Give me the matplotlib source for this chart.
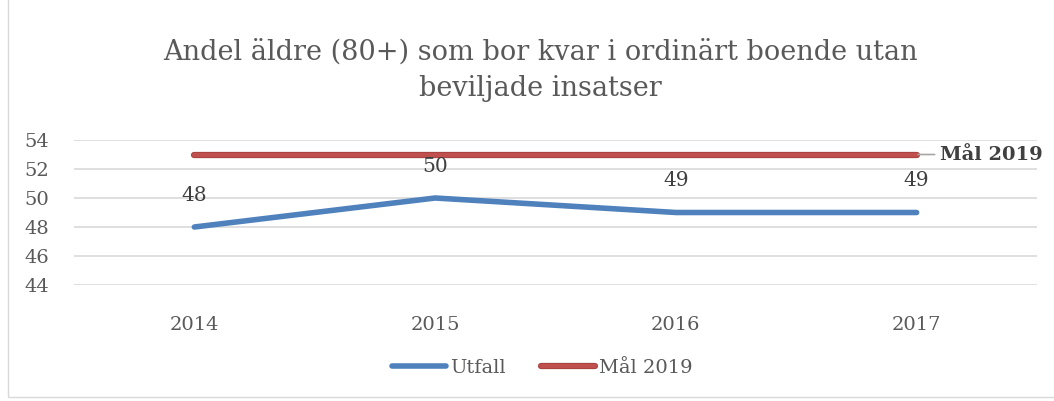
import matplotlib.pyplot as plt
import matplotlib.patheffects as pe
from matplotlib.patches import Rectangle

years = ["2014", "2015", "2016", "2017"]
utfall = [48, 50, 49, 49]
mal_2019 = [53, 53, 53, 53]
yticks = [44, 46, 48, 50, 52, 54]

plt.rcParams['font.family'] = ['DejaVu Serif']
text_col = "#595959"

fig = plt.figure(figsize=(10.54, 4.01), dpi=100)
ax = fig.add_axes([74 / 1054, 1 - 285 / 401, (1037 - 74) / 1054, 145 / 401])

x = range(len(years))
ax.plot(x, utfall, color="#4f81bd", linewidth=4, solid_capstyle="round", label="Utfall")
ax.plot(x, mal_2019, color="#c0504d", linewidth=3, solid_capstyle="round", label="Mål 2019",
        path_effects=[pe.Stroke(linewidth=4.5, foreground="#a94440"), pe.Normal()])

for i, v in enumerate(utfall):
    ax.annotate(str(v), (i, v), xytext=(0, 23), textcoords="offset points",
                ha="center", va="center", fontsize=14.5, color="#404040")

# series label at the end of the target line
ax.annotate("Mål 2019", (3, 53), xytext=(17, 0), textcoords="offset points",
            ha="left", va="center", fontsize=14, fontweight="bold", color="#404040",
            arrowprops=dict(arrowstyle="-", color="#a6a6a6", lw=1.2, shrinkA=2, shrinkB=1))

ax.set_xlim(-0.5, 3.5)
ax.set_ylim(44, 54)
ax.set_yticks(yticks)
ax.set_xticks(list(x))
ax.set_xticklabels(years)
ax.tick_params(axis="both", length=0, labelsize=14, labelcolor=text_col)
ax.tick_params(axis="x", pad=22)
ax.tick_params(axis="y", pad=18)
ax.grid(axis="y", color="#d9d9d9", linewidth=1.2)
ax.set_axisbelow(True)
for s in ax.spines.values():
    s.set_visible(False)

fig.text(540 / 1054, 1 - 70 / 401, "Andel äldre (80+) som bor kvar i ordinärt boende utan\nbeviljade insatser",
         ha="center", va="center", fontsize=19.5, color=text_col, linespacing=1.45)

fig.legend(loc="center", bbox_to_anchor=(542 / 1054, 1 - 368 / 401), ncol=2, frameon=False,
           fontsize=14, labelcolor=text_col, handlelength=2.8, handletextpad=0.2, columnspacing=1.8)

fig.patches.append(Rectangle((8 / 1054, 4 / 401), 1.2, 1.5, transform=fig.transFigure,
                             fill=False, edgecolor="#d9d9d9", linewidth=1))

fig.savefig("out.png", dpi=100)
